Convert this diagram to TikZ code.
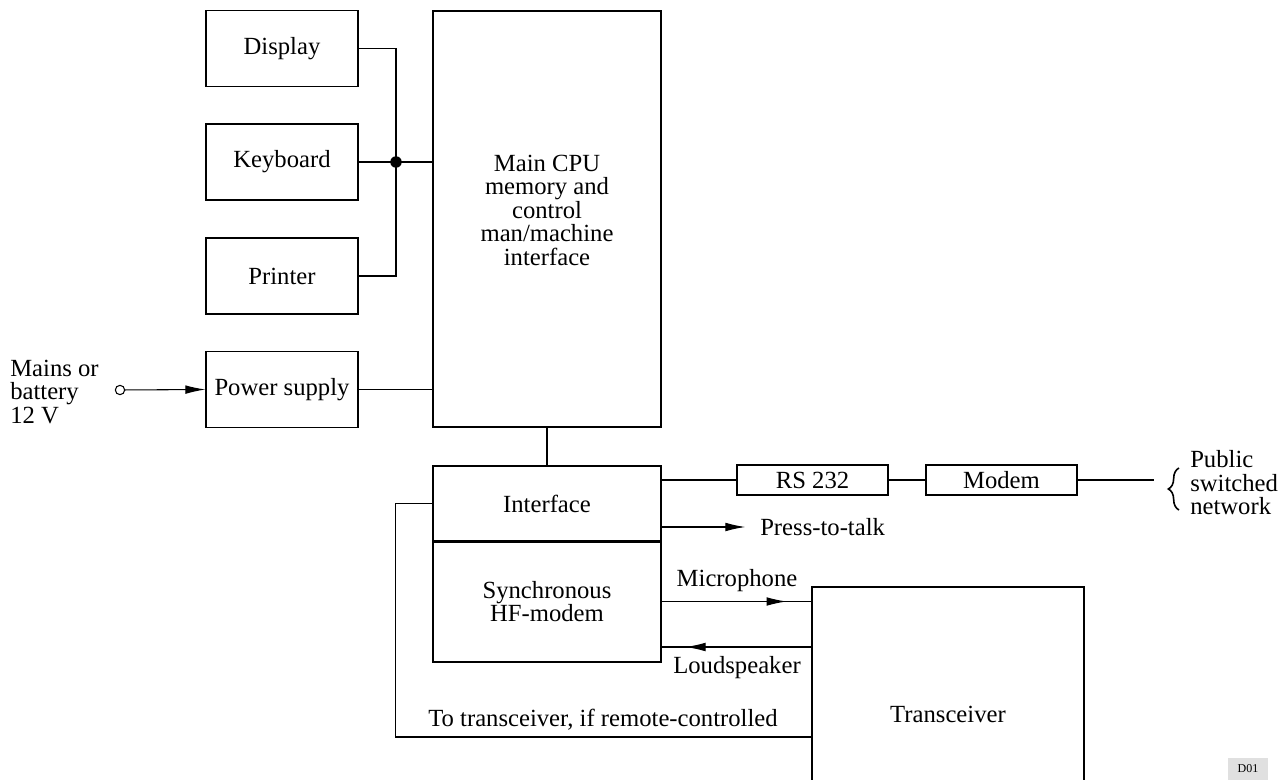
\documentclass[tikz,border=0pt]{standalone}
\usepackage{fontspec}
\setmainfont{Liberation Serif}
\usetikzlibrary{arrows.meta,decorations.markings,decorations.pathreplacing}

\begin{document}
\begin{tikzpicture}[x=0.75pt,y=-0.75pt,
    font=\fontsize{18.5}{17.6}\selectfont,
    box/.style={draw, line width=0.9pt, align=center, inner sep=0pt},
    unitbox/.style={box, minimum width=114pt, minimum height=57pt},
    wire/.style={line width=0.8pt},
    sig/.style={wire, -{Latex[length=15pt,width=6.5pt]}},
    midarrow/.style={wire, postaction={decorate},
      decoration={markings, mark=at position #1 with {\arrow{Latex[length=15pt,width=6.5pt]}}}}]
  \useasboundingbox (0,0) rectangle (1285,780);
  % peripherals
  \node[unitbox] (disp) at (282,48.5) {Display};
  \node[unitbox] (keyb) at (282,162) {Keyboard};
  \node[unitbox] (prnt) at (282,276) {Printer};
  \node[unitbox] (psu) at (282,389.5) {Power supply};
  \node[box, minimum width=171pt, minimum height=312pt] (cpu) at (547,219)
    {Main CPU\\memory and\\control\\man/machine\\interface\\[-4pt]};
  % bus
  \coordinate (jn) at (396,162);
  \draw[wire] (disp.east) -| (jn) |- (prnt.east);
  \draw[wire] (keyb.east) -- (cpu.west |- keyb.east);
  \fill (jn) circle (4.3pt);
  % power input
  \node[anchor=west, align=left, inner sep=6pt] (mains) at (2,392) {Mains or\\battery\\12 V};
  \node[circle, draw, line width=0.8pt, minimum size=7pt, inner sep=0pt] (src) at (120,390) {};
  \draw[sig] (src) -- (psu.west);
  \draw[wire] (psu.east) -- (cpu.west |- psu.east);
  % interface and modem
  \node[box, minimum width=171pt, minimum height=56.25pt] (iface) at (547,503.5) {Interface};
  \node[box, minimum width=171pt, minimum height=90.75pt] (sync) at (547,601.5) {Synchronous\\HF-modem};
  \draw[line width=1.8pt] (iface.south west) -- (iface.south east);
  \draw[wire] (cpu.south) -- (iface.north);
  % line side
  \node[box, minimum width=113.25pt, minimum height=22.5pt] (rs) at (812.5,480) {RS 232};
  \node[box, minimum width=113.25pt, minimum height=22.5pt] (modem) at (1001.5,480) {Modem};
  \coordinate (netend) at (1154,480);
  \draw[wire] (iface.east |- rs.west) -- (rs.west);
  \draw[wire] (rs) -- (modem);
  \draw[wire] (modem.east) -- (netend);
  \draw[line width=1.2pt, decorate, decoration={brace, amplitude=8pt}] (1179,510) -- (1179,468);
  \node[anchor=west, align=left, inner sep=6pt] (pstn) at (1182,483) {Public\\switched\\network};
  \node[anchor=west, inner sep=6pt] (ptt) at (752,527) {Press-to-talk};
  \draw[sig, shorten >=5pt] (iface.east |- ptt.west) -- (ptt.west);
  % radio
  \node[box, minimum width=204pt, minimum height=190.5pt] (trx) at (948,714) {Transceiver};
  \draw[midarrow=0.834] (sync.east) -- (sync.east -| trx.west);
  \draw[midarrow=0.84] (trx.west |- 0,647) -- (sync.east |- 0,647);
  \node (mic) at (737,581) {Microphone};
  \node (lspk) at (737,668) {Loudspeaker};
  \draw[wire] (iface.west) -- ++(-37,0) |- (trx.west |- 0,737);
  \node (remote) at (603,720) {To transceiver, if remote-controlled};
  % drawing tag
  \node[fill=black!12, font=\fontsize{9}{10}\selectfont, minimum width=30pt, minimum height=17pt] (tag) at (1248,769) {D01};
\end{tikzpicture}
\end{document}
